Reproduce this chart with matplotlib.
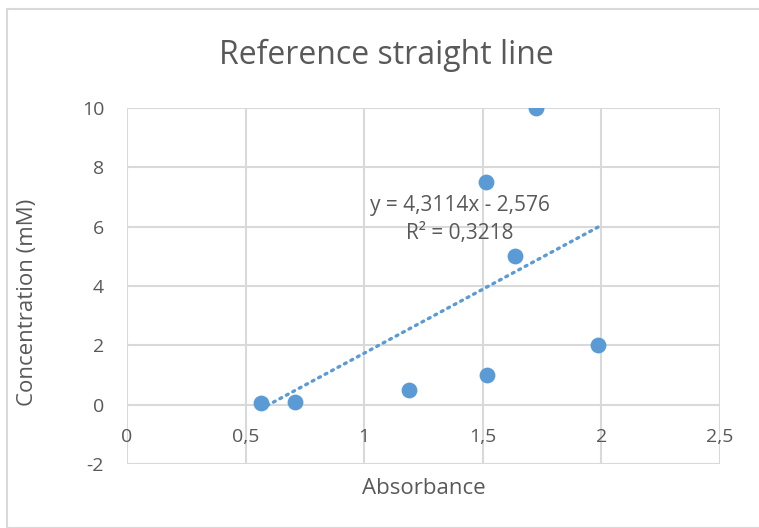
import matplotlib.pyplot as plt
from matplotlib.patches import Rectangle
import numpy as np

# data
absorbance = [0.563, 0.707, 1.187, 1.518, 1.515, 1.637, 1.725, 1.987]
concentration = [0.05, 0.1, 0.5, 1.0, 7.5, 5.0, 10.0, 2.0]
slope = 4.3114
intercept = -2.576
r_squared = 0.3218

x_ticks = [0, 0.5, 1, 1.5, 2, 2.5]
y_ticks = [-2, 0, 2, 4, 6, 8, 10]

blue = '#5b9bd5'
grid = '#d9d9d9'
txt = '#595959'

plt.rcParams['font.family'] = ['Open Sans', 'DejaVu Sans']

fig = plt.figure(figsize=(7.59, 5.28), dpi=100)
fig.patch.set_facecolor('white')
fig.patches.append(Rectangle((7 / 759, 0), 1.0, 1 - 9 / 528, transform=fig.transFigure,
                             fill=False, edgecolor=grid, linewidth=1.5))

ax = fig.add_axes([127 / 759, 1 - 464 / 528, 593 / 759, 356 / 528])
ax.set_xlim(0, 2.5)
ax.set_ylim(-2, 10)
for s in ax.spines.values():
    s.set_visible(False)

ax.set_xticks(x_ticks)
ax.set_yticks(y_ticks)
ax.grid(True, color=grid, linewidth=1.5)
ax.set_axisbelow(True)
ax.tick_params(length=0, colors=txt, labelsize=14)
ax.set_yticklabels([str(v) for v in y_ticks])
ax.set_xticklabels([])
ax.yaxis.set_tick_params(pad=16.5)

# x tick labels sit under the y=0 axis line
for v in x_ticks:
    lab = ('%g' % v).replace('.', ',')
    ax.annotate(lab, (v, 0), xytext=(0, -23), textcoords='offset points',
                ha='center', va='center', color=txt, fontsize=14)

# trendline over the data range
xt = np.array([min(absorbance), max(absorbance)])
ax.plot(xt, slope * xt + intercept, color=blue, linestyle=(0, (0.6, 1.6)),
        linewidth=2.4, dash_capstyle='round', zorder=2)

ax.scatter(absorbance, concentration, s=130, color=blue, zorder=3, linewidths=0)

eq = 'y = %sx - %s' % (('%.4f' % slope).replace('.', ','),
                        ('%.3f' % -intercept).replace('.', ','))
ax.text((460 - 127) / 593, (464 - 205) / 356, eq, transform=ax.transAxes,
        ha='center', va='center', color=txt, fontsize=15)
ax.text((460 - 127) / 593, (464 - 233) / 356,
        'R² = ' + ('%.4f' % r_squared).replace('.', ','), transform=ax.transAxes,
        ha='center', va='center', color=txt, fontsize=15)

fig.text(386 / 759, 1 - 55 / 528, 'Reference straight line', ha='center', va='center',
         color=txt, fontsize=23)
fig.text(424 / 759, 1 - 488 / 528, 'Absorbance', ha='center', va='center',
         color=txt, fontsize=16)
fig.text(27 / 759, 1 - 302 / 528, 'Concentration (mM)', ha='center', va='center',
         rotation=90, color=txt, fontsize=16)

fig.savefig('out.png', dpi=100)
